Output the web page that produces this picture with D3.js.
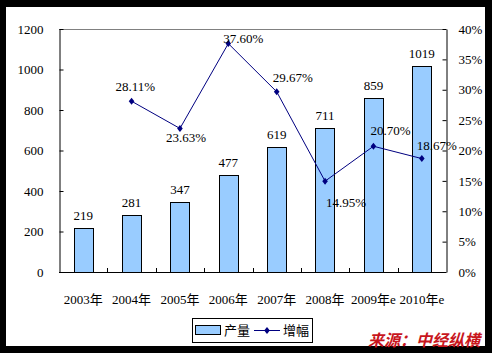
<!DOCTYPE html>
<html>
<head>
<meta charset="utf-8">
<script src="https://cdn.jsdelivr.net/npm/d3@7"></script>
<style>
	html, body { margin: 0; padding: 0; background: #000; }
	svg { display: block; }
	text { font-family: "Liberation Serif", "Noto Sans CJK SC", serif; font-size: 13px; }
</style>
</head>
<body>
<div id="main-view"></div>
<script>
var years = ["2003年", "2004年", "2005年", "2006年", "2007年", "2008年", "2009年e", "2010年e"];
var output = [219, 281, 347, 477, 619, 711, 859, 1019];
var growthYears = ["2004年", "2005年", "2006年", "2007年", "2008年", "2009年e", "2010年e"];
var growth = [28.11, 23.63, 37.60, 29.67, 14.95, 20.70, 18.67];
var leftTicks = [0, 200, 400, 600, 800, 1000, 1200];
var rightTicks = [0, 5, 10, 15, 20, 25, 30, 35, 40];

// label nudges for the growth labels (dx, dy from the point)
var labelNudge = [[-16, -10], [-14, 14], [-5, -1], [-4, -10], [1, 26], [-3, -11], [-5, -9]];

var width = 492, height = 353;
var plotL = 59, plotR = 446, plotT = 29, plotB = 272;

var svg = d3.select("#main-view").append("svg")
	.attr("width", width)
	.attr("height", height);

svg.append("rect").attr("width", width).attr("height", height).attr("fill", "#000");
svg.append("rect").attr("x", 6).attr("y", 7).attr("width", 479).attr("height", 339).attr("fill", "#fff");

var x = d3.scaleBand().domain(years).range([plotL, plotR]).paddingInner(0.6).paddingOuter(0.3);
var y = d3.scaleLinear().domain([0, 1200]).range([plotB, plotT]);
var y2 = d3.scaleLinear().domain([0, 40]).range([plotB, plotT]);

// top border of plot
svg.append("line")
	.attr("x1", plotL).attr("x2", plotR).attr("y1", plotT + 0.5).attr("y2", plotT + 0.5)
	.attr("stroke", "#808080");

// bars
svg.selectAll(".bar").data(output).enter().append("rect")
	.attr("class", "bar")
	.attr("x", function(d, i) { return Math.round(x(years[i])) + 0.5; })
	.attr("y", function(d) { return Math.round(y(d)) + 0.5; })
	.attr("width", Math.round(x.bandwidth()))
	.attr("height", function(d) { return Math.round(plotB - y(d)); })
	.attr("fill", "#99CCFF")
	.attr("stroke", "#000");

svg.selectAll(".barlabel").data(output).enter().append("text")
	.attr("x", function(d, i) { return x(years[i]) + x.bandwidth() / 2; })
	.attr("y", function(d) { return y(d) - 8; })
	.attr("text-anchor", "middle")
	.style("fill", "#000")
	.text(function(d) { return d; });

// axes
var yAxis = d3.axisLeft(y).tickValues(leftTicks).tickSizeInner(-4).tickSizeOuter(0).tickPadding(16)
	.tickFormat(d3.format("d"));
var ga = svg.append("g").attr("transform", "translate(" + (plotL + 0.5) + ",0)").call(yAxis);
var yAxis2 = d3.axisRight(y2).tickValues(rightTicks).tickSizeInner(-4).tickSizeOuter(0).tickPadding(12)
	.tickFormat(function(d) { return d + "%"; });
var gb = svg.append("g").attr("transform", "translate(" + (plotR + 0.5) + ",0)").call(yAxis2);
var xAxis = d3.axisBottom(x).tickSize(0).tickPadding(22);
var gc = svg.append("g").attr("transform", "translate(0," + (plotB + 0.5) + ")").call(xAxis);
[ga, gb, gc].forEach(function(g) {
	g.selectAll("text").style("font-size", "13px").style("fill", "#000")
		.style("font-family", "'Liberation Serif', 'Noto Sans CJK SC', serif");
	g.selectAll("path, line").attr("stroke", "#000");
});
gc.select(".domain").attr("d", "M" + plotL + ",0H" + plotR);

// category separator ticks on x axis
var sep = d3.range(1, years.length).map(function(i) { return plotL + i * x.step(); });
svg.selectAll(".sep").data(sep).enter().append("line")
	.attr("x1", function(d) { return Math.round(d) + 0.5; })
	.attr("x2", function(d) { return Math.round(d) + 0.5; })
	.attr("y1", plotB - 4).attr("y2", plotB)
	.attr("stroke", "#000");

// growth line
var px = function(d, i) { return x(growthYears[i]) + x.bandwidth() / 2; };
var line = d3.line().x(px).y(function(d) { return y2(d); });
svg.append("path").datum(growth)
	.attr("d", line)
	.attr("fill", "none")
	.attr("stroke", "#000080")
	.attr("stroke-width", 1);

var diamond = "M0,-3.5L2.8,0L0,3.5L-2.8,0Z";
svg.selectAll(".pt").data(growth).enter().append("path")
	.attr("d", diamond)
	.attr("transform", function(d, i) { return "translate(" + px(d, i) + "," + y2(d) + ")"; })
	.attr("fill", "#000080");

svg.selectAll(".glabel").data(growth).enter().append("text")
	.attr("x", function(d, i) { return px(d, i) + labelNudge[i][0]; })
	.attr("y", function(d, i) { return y2(d) + labelNudge[i][1]; })
	.style("fill", "#000")
	.text(function(d) { return d.toFixed(2) + "%"; });

// legend
var lg = svg.append("g");
lg.append("rect").attr("x", 192.5).attr("y", 318.5).attr("width", 120).attr("height", 24)
	.attr("fill", "#fff").attr("stroke", "#000");
lg.append("rect").attr("x", 195.5).attr("y", 325.5).attr("width", 25).attr("height", 9)
	.attr("fill", "#99CCFF").attr("stroke", "#000");
lg.append("text").attr("x", 224).attr("y", 335).style("fill", "#000").text("产量");
lg.append("line").attr("x1", 254).attr("x2", 280).attr("y1", 330.5).attr("y2", 330.5)
	.attr("stroke", "#000080");
lg.append("path").attr("d", diamond).attr("transform", "translate(267,330.5)").attr("fill", "#000080");
lg.append("text").attr("x", 283).attr("y", 335).style("fill", "#000").text("增幅");

// source
svg.append("text")
	.attr("x", 368).attr("y", 346)
	.style("font-family", "'Noto Sans CJK SC', sans-serif")
	.style("font-size", "16px")
	.style("font-weight", "bold")
	.style("font-style", "italic")
	.style("fill", "#C8161D")
	.text("来源：中经纵横");
</script>
</body>
</html>
